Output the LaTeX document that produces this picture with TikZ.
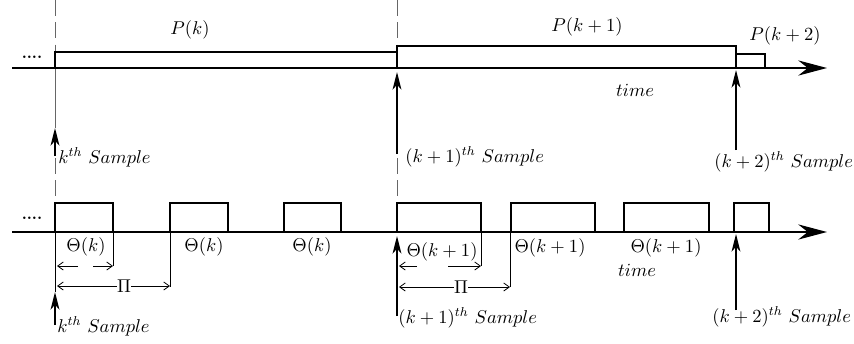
\documentclass[tikz,border=0pt]{standalone}
\usepackage{fix-cm}
\usepackage{amsmath}
\usepackage{amssymb}
\usetikzlibrary{arrows.meta}
\tikzset{
  timeaxis/.style={line width=1.5pt, -{Stealth[length=18pt, width=9.5pt, inset=6pt]}},
  pulse/.style={line width=1pt},
  guide/.style={black!60, line width=0.6pt, dash pattern=on 10pt off 4pt},
  guidesolid/.style={black!60, line width=0.6pt},
  samplearrow/.style={line width=1.2pt, -{Stealth[length=11pt, width=5.5pt, inset=3pt]}},
  dimarrow/.style={line width=0.5pt, -{Straight Barb[length=3.5pt, width=5pt]}},
  tickline/.style={line width=0.6pt},
  lbl/.style={inner sep=0pt, font=\fontsize{11.6}{14}\selectfont},
  dots/.style={inner sep=0pt, font=\bfseries}
}

\begin{document}
\begin{tikzpicture}[x=0.022cm, y=-0.022cm]
    \useasboundingbox (0,0) rectangle (854,343);

    % sampling instants
    \coordinate (g1) at (55,0);   \coordinate (g1t) at (55,52);
    \coordinate (g1c) at (55,68); \coordinate (g1d) at (55,128);
    \coordinate (g1e) at (55,158); \coordinate (g1b) at (55,203);
    \coordinate (g2) at (397,0);  \coordinate (g2t) at (397,46);
    \coordinate (g2e) at (397,158); \coordinate (g2b) at (397,203);
    \draw[guide] (g1) -- (g1t);
    \draw[guidesolid] (g1c) -- (g1d);
    \draw[guide] (g1e) -- (g1b);
    \draw[guide] (g2) -- (g2t);
    \draw[guide] (g2e) -- (g2b);

    % upper time line: P(k), P(k+1), P(k+2)
    \draw[pulse] (55,68) |- (397,52) -- (397,68);
    \draw[pulse] (397,68) |- (736,46) -- (736,68);
    \draw[pulse] (736,54) -| (765,68);
    \coordinate (ua) at (12,68);
    \coordinate (ub) at (827,68);
    \draw[timeaxis] (ua) -- (ub);
    \node[dots] (udots) at (32,57) {....};

    \node[lbl] (pk)  at (190,30) {$P(k)$};
    \node[lbl] (pk1) at (587,27) {$P(k+1)$};
    \node[lbl] (pk2) at (785,36) {$P(k+2)$};
    \node[lbl] (utime) at (635,90) {$time$};

    % upper sample arrows
    \coordinate (us1) at (55,156);  \coordinate (ut1) at (55,128);
    \coordinate (us2) at (397,154); \coordinate (ut2) at (397,72);
    \coordinate (us3) at (736,150); \coordinate (ut3) at (736,70);
    \foreach \n in {1,2,3} {
        \draw[samplearrow] (us\n) -- (ut\n);
    }
    \node[lbl, anchor=west] (usl1) at (58,157)  {$k^{th}\ Sample$};
    \node[lbl, anchor=west] (usl2) at (405,157) {$(k+1)^{th}\ Sample$};
    \node[lbl, anchor=west] (usl3) at (714,162) {$(k+2)^{th}\ Sample$};

    % lower time line: Theta pulses
    \foreach \a/\b in {55/113, 170/228, 284/341, 397/481, 511/595, 624/709, 734/769} {
        \draw[pulse] (\a,232) |- (\b,203) -- (\b,232);
    }
    \coordinate (la) at (12,232);
    \coordinate (lb) at (827,232);
    \draw[timeaxis] (la) -- (lb);
    \node[dots] (ldots) at (32,218) {....};

    \node[lbl] (th1) at (86,247)  {$\Theta(k)$};
    \node[lbl] (th2) at (204,247) {$\Theta(k)$};
    \node[lbl] (th3) at (312,247) {$\Theta(k)$};
    \node[lbl] (th4) at (442,252) {$\Theta(k+1)$};
    \node[lbl] (th5) at (550,248) {$\Theta(k+1)$};
    \node[lbl] (th6) at (666,248) {$\Theta(k+1)$};
    \node[lbl] (ltime) at (637,270) {$time$};

    % widths and periods
    \foreach \x/\y in {55/292, 113/266, 170/287, 481/266, 510/287} {
        \draw[tickline] (\x,232) -- (\x,\y);
    }
    \draw[dimarrow] (78,266) -- (57,266);
    \draw[dimarrow] (93,266) -- (113,266);
    \draw[dimarrow] (417,266) -- (399,266);
    \draw[dimarrow] (448,266) -- (481,266);

    \node[lbl] (pi1) at (124,286) {$\Pi$};
    \node[lbl] (pi2) at (461,287) {$\Pi$};
    \coordinate (pa1) at (57,286);  \coordinate (pb1) at (170,286);
    \coordinate (pa2) at (399,287); \coordinate (pb2) at (510,287);
    \foreach \n in {1,2} {
        \draw[dimarrow] (pi\n.west) -- (pa\n);
        \draw[dimarrow] (pi\n.east) -- (pb\n);
    }

    % lower sample arrows
    \coordinate (ls1) at (55,325);  \coordinate (lt1) at (55,292);
    \coordinate (ls2) at (397,316); \coordinate (lt2) at (397,236);
    \coordinate (ls3) at (736,310); \coordinate (lt3) at (736,234);
    \foreach \n in {1,2,3} {
        \draw[samplearrow] (ls\n) -- (lt\n);
    }
    \node[lbl, anchor=west] (lsl1) at (57,326)  {$k^{th}\ Sample$};
    \node[lbl, anchor=west] (lsl2) at (398,318) {$(k+1)^{th}\ Sample$};
    \node[lbl, anchor=west] (lsl3) at (712,317) {$(k+2)^{th}\ Sample$};
\end{tikzpicture}
\end{document}
